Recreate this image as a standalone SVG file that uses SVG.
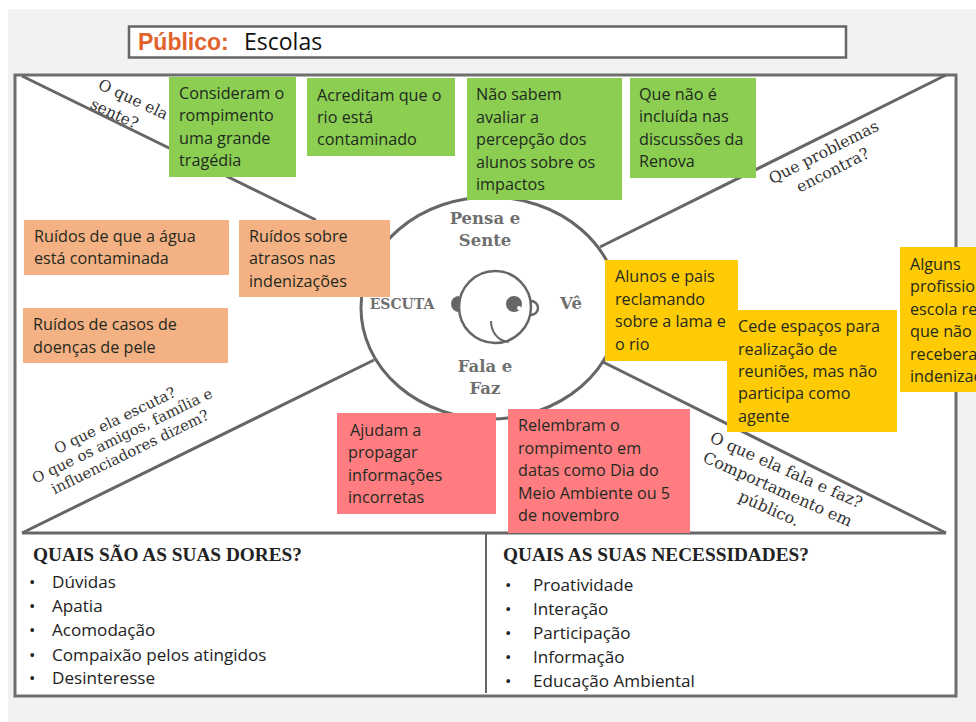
<svg xmlns="http://www.w3.org/2000/svg" width="976" height="722" viewBox="0 0 976 722">
<style>
.t{font-family:"Open Sans","Noto Sans",sans-serif;font-size:16.2px;fill:#1f2a1f}
.l{font-family:"Open Sans","Noto Sans",sans-serif;font-size:17.1px;fill:#222}
.r{font-family:"DejaVu Serif","Liberation Serif",serif;font-size:15px;fill:#333;text-anchor:middle}
.c{font-family:"DejaVu Serif","Liberation Serif",serif;font-size:16.5px;font-weight:bold;fill:#6f6f6f;text-anchor:middle}
.h{font-family:"Liberation Serif",serif;font-size:19.3px;font-weight:bold;fill:#222}
.ln{stroke:#666;stroke-width:3;fill:none}
.g{fill:#8bce52}.o{fill:#f4b183}.y{fill:#ffcb05}.p{fill:#ff7c80}
</style>
<rect x="8" y="9" width="968" height="713" fill="#f2f2f2"/>
<g id="title">
<rect x="129" y="26.500" width="717" height="31" fill="#fff" stroke="#666" stroke-width="2.500"/>
<text x="138" y="50" font-family="Liberation Sans,sans-serif" font-size="23" font-weight="bold" fill="#e2622c">Público:</text>
<text x="244" y="50" font-family="Open Sans,sans-serif" font-size="23" fill="#111">Escolas</text>
</g>
<rect id="frame" x="15" y="75" width="941" height="621" fill="#fff" stroke="#6e6e6e" stroke-width="3"/>
<g id="connectors">
<line class="ln" x1="22" y1="76" x2="316" y2="220"/>
<line class="ln" x1="946" y1="75" x2="600" y2="247"/>
<line class="ln" x1="22" y1="533" x2="374" y2="360"/>
<line class="ln" x1="946" y1="533" x2="603" y2="362"/>
<line class="ln" x1="22" y1="533" x2="946" y2="533"/>
<line x1="486" y1="533" x2="486" y2="693" stroke="#666" stroke-width="2"/>
</g>
<g id="center">
<ellipse class="ln" cx="490" cy="308" rx="129" ry="111"/>
<circle cx="495" cy="307" r="36" fill="none" stroke="#666" stroke-width="2.500"/>
<path d="M459 296a8 8 0 0 0 0 16z" fill="#666"/>
<path d="M531 301a7 7 0 0 1 0 14" fill="none" stroke="#666" stroke-width="2.500"/>
<circle cx="514" cy="304" r="8" fill="#666"/>
<circle cx="519" cy="308" r="2" fill="#fff"/>
<path d="M491 321c0 10 6 20 18 21" fill="none" stroke="#666" stroke-width="2"/>
<text class="c" x="485" y="224">Pensa e</text>
<text class="c" x="485" y="246">Sente</text>
<text class="c" x="402" y="309" style="font-size:14px">ESCUTA</text>
<text class="c" x="571" y="309">Vê</text>
<text class="c" x="485" y="372">Fala e</text>
<text class="c" x="485" y="394">Faz</text>
</g>
<g id="q-sente" transform="translate(131,104) rotate(25)" style="font-size:15.5px">
<text class="r" style="font-size:15.500px" x="0" y="0">O que ela</text>
<text class="r" style="font-size:15.500px" x="-11" y="21">sente?</text>
</g>
<g id="q-problemas" transform="translate(826,157) rotate(-27)">
<text class="r" style="font-size:15.700px" x="0" y="0">Que problemas</text>
<text class="r" style="font-size:15.700px" x="0" y="20">encontra?</text>
</g>
<g id="q-escuta" transform="translate(117,425) rotate(-26)">
<text class="r" style="font-size:14.800px" x="0" y="0">O que ela escuta?</text>
<text class="r" style="font-size:14.800px" x="0" y="17">O que os amigos, família e</text>
<text class="r" style="font-size:14.800px" x="0" y="35">influenciadores dizem?</text>
</g>
<g id="q-fala" transform="translate(784,475) rotate(24)">
<text class="r" style="font-size:16px" x="0" y="0">O que ela fala e faz?</text>
<text class="r" style="font-size:16px" x="0" y="21">Comportamento em</text>
<text class="r" style="font-size:16px" x="0" y="42">público.</text>
</g>
<g id="n1"><rect class="g" x="169" y="77" width="127" height="100"/><text class="t"><tspan x="179" y="99">Consideram o</tspan><tspan x="179" y="121">rompimento</tspan><tspan x="179" y="144">uma grande</tspan><tspan x="179" y="166">tragédia</tspan></text></g>
<g id="n2"><rect class="g" x="307" y="78" width="148" height="78"/><text class="t"><tspan x="317" y="101">Acreditam que o</tspan><tspan x="317" y="123">rio está</tspan><tspan x="317" y="145">contaminado</tspan></text></g>
<g id="n3"><rect class="g" x="467" y="78" width="155" height="122"/><text class="t"><tspan x="476" y="100">Não sabem</tspan><tspan x="476" y="123">avaliar a</tspan><tspan x="476" y="145">percepção dos</tspan><tspan x="476" y="168">alunos sobre os</tspan><tspan x="476" y="190">impactos</tspan></text></g>
<g id="n4"><rect class="g" x="630" y="78" width="126" height="100"/><text class="t"><tspan x="639" y="100">Que não é</tspan><tspan x="639" y="122">incluída nas</tspan><tspan x="639" y="145">discussões da</tspan><tspan x="639" y="167">Renova</tspan></text></g>
<g id="n5"><rect class="o" x="24" y="220" width="205" height="55"/><text class="t"><tspan x="34" y="242">Ruídos de que a água</tspan><tspan x="34" y="264">está contaminada</tspan></text></g>
<g id="n6"><rect class="o" x="239" y="220" width="151" height="77"/><text class="t"><tspan x="249" y="242">Ruídos sobre</tspan><tspan x="249" y="264">atrasos nas</tspan><tspan x="249" y="287">indenizações</tspan></text></g>
<g id="n7"><rect class="o" x="23" y="308" width="205" height="55"/><text class="t"><tspan x="33" y="330">Ruídos de casos de</tspan><tspan x="33" y="353">doenças de pele</tspan></text></g>
<g id="n8"><rect class="y" x="605" y="260" width="133" height="101"/><text class="t"><tspan x="615" y="282">Alunos e pais</tspan><tspan x="615" y="305">reclamando</tspan><tspan x="615" y="327">sobre a lama e</tspan><tspan x="615" y="350">o rio</tspan></text></g>
<g id="n9"><rect class="y" x="727" y="310" width="170" height="122"/><text class="t"><tspan x="738" y="332">Cede espaços para</tspan><tspan x="738" y="355">realização de</tspan><tspan x="738" y="377">reuniões, mas não</tspan><tspan x="738" y="399">participa como</tspan><tspan x="738" y="422">agente</tspan></text></g>
<g id="n10"><rect class="y" x="900" y="247" width="76" height="145"/><text class="t"><tspan x="910" y="270">Alguns</tspan><tspan x="910" y="292">profission</tspan><tspan x="910" y="315">escola re</tspan><tspan x="910" y="337">que não</tspan><tspan x="910" y="360">recebera</tspan><tspan x="910" y="382">indenizaç</tspan></text></g>
<g id="n11"><rect class="p" x="337" y="413" width="159" height="101"/><text class="t"><tspan x="350" y="436">Ajudam a</tspan><tspan x="348" y="458">propagar</tspan><tspan x="348" y="481">informações</tspan><tspan x="348" y="503">incorretas</tspan></text></g>
<g id="n12"><rect class="p" x="508" y="409" width="182" height="124"/><text class="t"><tspan x="518" y="431">Relembram o</tspan><tspan x="518" y="454">rompimento em</tspan><tspan x="518" y="476">datas como Dia do</tspan><tspan x="518" y="499">Meio Ambiente ou 5</tspan><tspan x="518" y="521">de novembro</tspan></text></g>
<g id="dores">
<text class="h" x="33" y="561">QUAIS SÃO AS SUAS DORES?</text>
<text class="l" x="29" y="588">•</text><text class="l" x="52" y="588">Dúvidas</text>
<text class="l" x="29" y="612">•</text><text class="l" x="52" y="612">Apatia</text>
<text class="l" x="29" y="636">•</text><text class="l" x="52" y="636">Acomodação</text>
<text class="l" x="29" y="661">•</text><text class="l" x="52" y="661">Compaixão pelos atingidos</text>
<text class="l" x="29" y="684">•</text><text class="l" x="52" y="684">Desinteresse</text>
</g>
<g id="necessidades">
<text class="h" x="503" y="561">QUAIS AS SUAS NECESSIDADES?</text>
<text class="l" x="505" y="591">•</text><text class="l" x="533" y="591">Proatividade</text>
<text class="l" x="505" y="615">•</text><text class="l" x="533" y="615">Interação</text>
<text class="l" x="505" y="639">•</text><text class="l" x="533" y="639">Participação</text>
<text class="l" x="505" y="663">•</text><text class="l" x="533" y="663">Informação</text>
<text class="l" x="505" y="687">•</text><text class="l" x="533" y="687">Educação Ambiental</text>
</g>
</svg>
